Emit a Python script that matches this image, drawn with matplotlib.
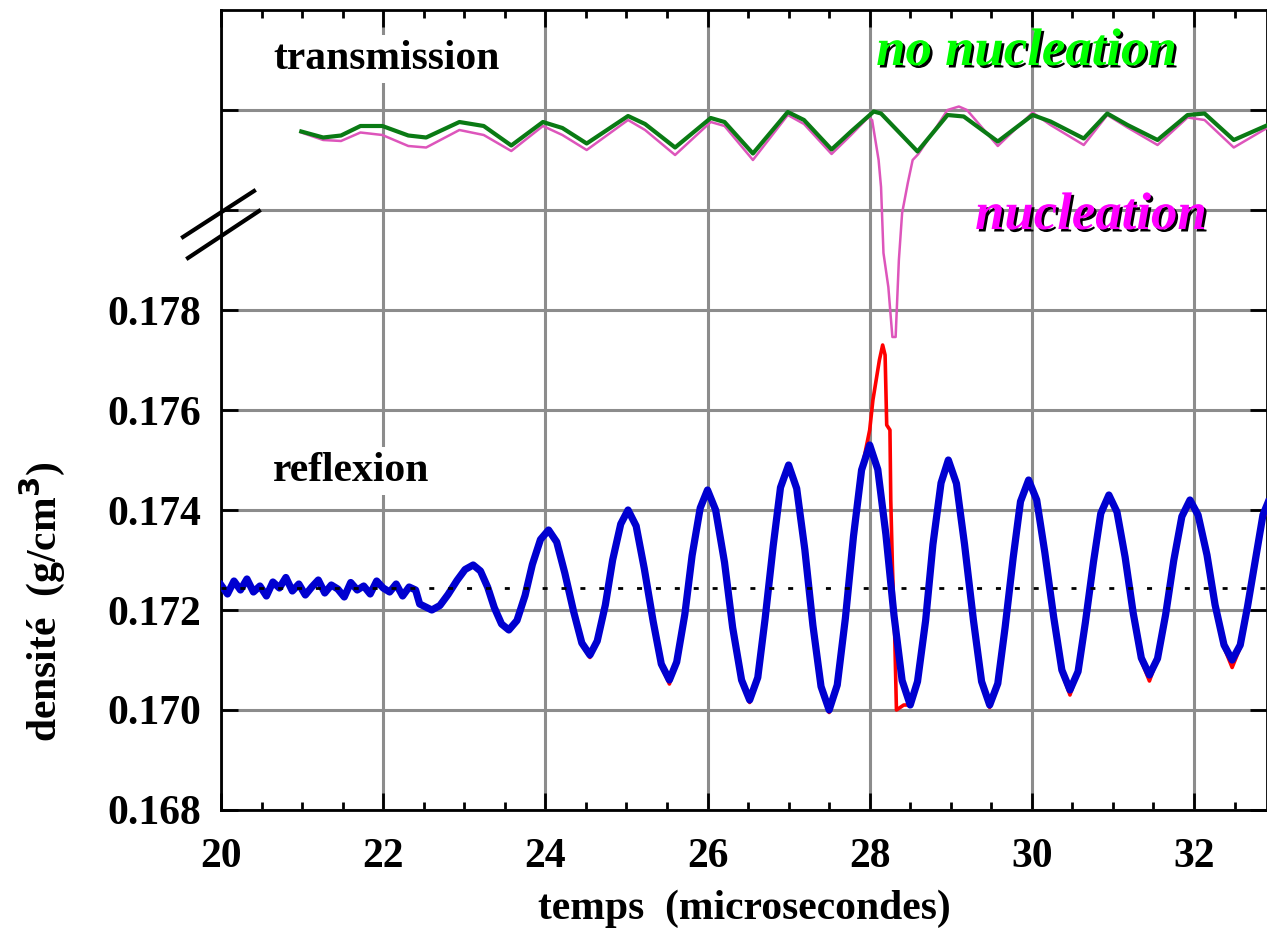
import matplotlib
matplotlib.use("Agg")
import matplotlib.pyplot as plt
import matplotlib.patheffects as pe
from matplotlib.lines import Line2D
from matplotlib.ticker import MultipleLocator

# reflexion, no nucleation (blue)
blue_t = [20.00, 20.08, 20.16, 20.24, 20.32, 20.40, 20.48, 20.56, 20.64, 20.72,
          20.80, 20.88, 20.96, 21.04, 21.12, 21.20, 21.28, 21.36, 21.44, 21.52,
          21.60, 21.68, 21.76, 21.84, 21.92, 22.00, 22.08, 22.16, 22.24, 22.32,
          22.40,
          22.45, 22.60, 22.70, 22.80, 22.91, 23.01, 23.11, 23.20, 23.29, 23.37,
          23.46, 23.55, 23.65, 23.75, 23.84, 23.94, 24.04, 24.14, 24.24, 24.35,
          24.45, 24.55, 24.64, 24.74, 24.83, 24.93, 25.02, 25.12, 25.22, 25.33,
          25.43, 25.53, 25.62, 25.72, 25.81, 25.91, 26.00, 26.10, 26.21, 26.31,
          26.42, 26.52, 26.62, 26.71, 26.81, 26.90, 27.00, 27.10, 27.20, 27.30,
          27.40, 27.50, 27.60, 27.70, 27.80, 27.90, 28.00, 28.10, 28.20, 28.30,
          28.40, 28.50, 28.59, 28.69, 28.78, 28.88, 28.97, 29.07, 29.17, 29.28,
          29.38, 29.48, 29.58, 29.67, 29.77, 29.86, 29.96, 30.06, 30.16, 30.27,
          30.37, 30.47, 30.57, 30.66, 30.76, 30.85, 30.95, 31.05, 31.15, 31.25,
          31.35, 31.45, 31.55, 31.65, 31.75, 31.85, 31.95, 32.05, 32.16, 32.26,
          32.37, 32.47, 32.57, 32.66, 32.76, 32.85, 32.95]
blue_v = [0.17250, 0.17232, 0.17258, 0.17240, 0.17262, 0.17236, 0.17248, 0.17228, 0.17256, 0.17244,
          0.17265, 0.17238, 0.17252, 0.17230, 0.17246, 0.17260, 0.17234, 0.17250, 0.17242, 0.17226,
          0.17255, 0.17240, 0.17248, 0.17232, 0.17258, 0.17244, 0.17236, 0.17252, 0.17228, 0.17246,
          0.17240,
          0.17212, 0.17200, 0.17209, 0.17231, 0.17259, 0.17281, 0.17290, 0.17278, 0.17245, 0.17205,
          0.17172, 0.17160, 0.17179, 0.17229, 0.17291, 0.17341, 0.17360, 0.17336, 0.17274, 0.17196,
          0.17134, 0.17110, 0.17138, 0.17210, 0.17300, 0.17372, 0.17400, 0.17368, 0.17283, 0.17177,
          0.17092, 0.17060, 0.17096, 0.17191, 0.17309, 0.17404, 0.17440, 0.17400, 0.17295, 0.17165,
          0.17060, 0.17020, 0.17065, 0.17182, 0.17328, 0.17445, 0.17490, 0.17443, 0.17321, 0.17169,
          0.17047, 0.17000, 0.17050, 0.17183, 0.17347, 0.17480, 0.17530, 0.17481, 0.17351, 0.17189,
          0.17059, 0.17010, 0.17057, 0.17179, 0.17331, 0.17454, 0.17500, 0.17453, 0.17331, 0.17179,
          0.17057, 0.17010, 0.17053, 0.17165, 0.17305, 0.17417, 0.17460, 0.17420, 0.17315, 0.17185,
          0.17080, 0.17040, 0.17077, 0.17175, 0.17296, 0.17393, 0.17430, 0.17396, 0.17306, 0.17194,
          0.17104, 0.17070, 0.17103, 0.17191, 0.17299, 0.17387, 0.17420, 0.17390, 0.17310, 0.17210,
          0.17130, 0.17100, 0.17130, 0.17207, 0.17303, 0.17390, 0.17430]

# reflexion, nucleation (red)
red_t = [22.45, 22.60, 22.70, 22.80, 22.91, 23.01, 23.11, 23.20, 23.29, 23.37,
         23.46, 23.55, 23.65, 23.75, 23.84, 23.94, 24.04, 24.14, 24.24, 24.35,
         24.45, 24.55, 24.64, 24.74, 24.83, 24.93, 25.02, 25.12, 25.22, 25.33,
         25.43, 25.53, 25.62, 25.72, 25.81, 25.91, 26.00, 26.10, 26.21, 26.31,
         26.42, 26.52, 26.62, 26.71, 26.81, 26.90, 27.00, 27.10, 27.20, 27.30,
         27.40, 27.50, 27.60, 27.70, 27.80, 27.90, 28.00, 28.04, 28.08, 28.12,
         28.16, 28.19, 28.21, 28.25, 28.26, 28.28, 28.31, 28.33, 28.42, 28.50,
         28.59, 28.69, 28.78, 28.88, 28.97, 29.07, 29.17, 29.28, 29.38, 29.48,
         29.58, 29.67, 29.77, 29.86, 29.96, 30.06, 30.16, 30.27, 30.37, 30.47,
         30.57, 30.66, 30.76, 30.85, 30.95, 31.05, 31.15, 31.25, 31.35, 31.45,
         31.55, 31.65, 31.75, 31.85, 31.95, 32.05, 32.16, 32.26, 32.37, 32.47,
         32.57, 32.66, 32.76, 32.85, 32.95]
red_v = [0.17212, 0.17200, 0.17209, 0.17231, 0.17259, 0.17281, 0.17290, 0.17278, 0.17245, 0.17205,
         0.17172, 0.17158, 0.17179, 0.17229, 0.17291, 0.17341, 0.17355, 0.17336, 0.17274, 0.17196,
         0.17130, 0.17105, 0.17138, 0.17210, 0.17300, 0.17372, 0.17395, 0.17368, 0.17283, 0.17177,
         0.17088, 0.17052, 0.17096, 0.17191, 0.17309, 0.17404, 0.17435, 0.17400, 0.17295, 0.17165,
         0.17055, 0.17015, 0.17065, 0.17182, 0.17328, 0.17445, 0.17480, 0.17443, 0.17321, 0.17169,
         0.17042, 0.16995, 0.17050, 0.17183, 0.17347, 0.17480, 0.17560, 0.17620, 0.17660, 0.17700,
         0.17730, 0.17710, 0.17570, 0.17560, 0.17420, 0.17290, 0.17140, 0.17000, 0.17010, 0.17010,
         0.17057, 0.17179, 0.17331, 0.17454, 0.17490, 0.17453, 0.17331, 0.17179, 0.17052, 0.17005,
         0.17053, 0.17165, 0.17305, 0.17417, 0.17450, 0.17420, 0.17315, 0.17185, 0.17075, 0.17030,
         0.17077, 0.17175, 0.17296, 0.17393, 0.17420, 0.17396, 0.17306, 0.17194, 0.17098, 0.17058,
         0.17103, 0.17191, 0.17299, 0.17387, 0.17410, 0.17390, 0.17310, 0.17210, 0.17125, 0.17085,
         0.17125, 0.17200, 0.17295, 0.17380, 0.17420]

# transmission, no nucleation (green) - plotted above the axis break
green_t = [20.99, 21.26, 21.48, 21.72, 21.99, 22.31, 22.53, 22.94, 23.24, 23.58,
           23.97, 24.21, 24.51, 25.02, 25.23, 25.60, 26.04, 26.21, 26.56, 26.99,
           27.19, 27.53, 27.77, 28.05, 28.14, 28.59, 28.96, 29.16, 29.58, 30.01,
           30.23, 30.64, 30.93, 31.18, 31.55, 31.92, 32.13, 32.49, 32.91]
green_v = [0.18157, 0.18145, 0.18149, 0.18168, 0.18168, 0.18149, 0.18145, 0.18176, 0.18168, 0.18129,
           0.18176, 0.18164, 0.18133, 0.18188, 0.18172, 0.18125, 0.18184, 0.18176, 0.18113, 0.18196,
           0.18180, 0.18121, 0.18157, 0.18197, 0.18193, 0.18117, 0.18190, 0.18187, 0.18137, 0.18190,
           0.18177, 0.18143, 0.18193, 0.18170, 0.18140, 0.18190, 0.18193, 0.18140, 0.18170]

# transmission, nucleation (magenta)
mag_t = [20.99, 21.26, 21.48, 21.72, 21.99, 22.31, 22.53, 22.94, 23.24, 23.58,
         23.97, 24.21, 24.51, 25.02, 25.23, 25.60, 26.04, 26.21, 26.56, 26.99,
         27.19, 27.53, 27.77, 27.98, 28.03, 28.11, 28.14, 28.17, 28.23, 28.28,
         28.32, 28.36, 28.40, 28.47, 28.53, 28.60, 28.80, 28.96, 29.10, 29.20,
         29.58, 30.01, 30.23, 30.64, 30.93, 31.18, 31.55, 31.92, 32.13, 32.49,
         32.91]
mag_v = [0.18155, 0.18140, 0.18138, 0.18155, 0.18150, 0.18128, 0.18125, 0.18160, 0.18150, 0.18118,
         0.18168, 0.18150, 0.18120, 0.18180, 0.18160, 0.18110, 0.18176, 0.18168, 0.18100, 0.18190,
         0.18172, 0.18112, 0.18150, 0.18185, 0.18180, 0.18100, 0.18046, 0.17914, 0.17846, 0.17746,
         0.17746, 0.17900, 0.17994, 0.18054, 0.18100, 0.18112, 0.18160, 0.18200, 0.18207, 0.18200,
         0.18128, 0.18195, 0.18170, 0.18130, 0.18190, 0.18165, 0.18130, 0.18185, 0.18180, 0.18125,
         0.18165]

rest_density = 0.17244
y_ticks = [0.168, 0.170, 0.172, 0.174, 0.176, 0.178, 0.180, 0.182]
y_labels = ["0.168", "0.170", "0.172", "0.174", "0.176", "0.178", "", ""]
x_ticks = [20, 22, 24, 26, 28, 30, 32]

serif = ["Liberation Serif", "DejaVu Serif"]
plt.rcParams["font.family"] = serif
plt.rcParams["font.weight"] = "bold"

W, H = 1267, 932
fig = plt.figure(figsize=(W / 100, H / 100), dpi=100)
ax = fig.add_axes([221 / W, 1 - 810 / H, 1 - 221 / W, 800 / H])

ax.set_xlim(20, 32.9)
ax.set_ylim(0.168, 0.184)

ax.grid(True, color="#8c8c8c", linewidth=2.2, zorder=0)
ax.set_axisbelow(True)

ax.plot(red_t, red_v, color="#ff0000", lw=2.6, zorder=3)
ax.plot(blue_t, blue_v, color="#0000d0", lw=5.2, zorder=4)
ax.plot(mag_t, mag_v, color="#dd55bb", lw=1.8, zorder=3)
ax.plot(green_t, green_v, color="#0a7a14", lw=3.0, zorder=4)
ax.axhline(rest_density, color="black", lw=2, linestyle=(0, (1.8, 5)), zorder=5)

ax.set_xticks(x_ticks)
ax.xaxis.set_minor_locator(MultipleLocator(0.5))
ax.set_yticks(y_ticks)
ax.set_yticklabels(y_labels)
ax.tick_params(which="both", direction="in", top=True, right=True, width=2)
ax.tick_params(which="major", length=12, labelsize=30, pad=14)
ax.tick_params(which="minor", length=6)
ax.tick_params(axis="x", which="major", pad=20)
for spine in ax.spines.values():
    spine.set_linewidth(2)

ax.set_xlabel("temps  (microsecondes)", fontsize=30, fontweight="bold", labelpad=10)
ax.set_ylabel("densité  (g/cm$^\\mathbf{3}$)", fontsize=30, fontweight="bold")
ax.yaxis.set_label_coords(-0.147, 0.26)

box = dict(facecolor="white", edgecolor="none", pad=4)
ax.text(20.64, 0.18302, "transmission", fontsize=30, fontweight="bold",
        va="center", ha="left", bbox=box, zorder=6)
ax.text(20.64, 0.17478, "reflexion", fontsize=30, fontweight="bold",
        va="center", ha="left", bbox=box, zorder=6)

shadow = [pe.withSimplePatchShadow(offset=(1.8, -1.8), shadow_rgbFace="black", alpha=1.0)]
ax.text(28.08, 0.18316, "no nucleation", fontsize=38, fontweight="bold", style="italic",
        color="#00ff00", va="center", ha="left", path_effects=shadow, zorder=6)
ax.text(29.30, 0.17988, "nucleation", fontsize=38, fontweight="bold", style="italic",
        color="#ff00ff", va="center", ha="left", path_effects=shadow, zorder=6)

# axis break marks on the left spine
for (x0, y0), (x1, y1) in [((183, 237), (254, 191)), ((188, 258), (259, 211))]:
    fig.add_artist(Line2D([x0 / W, x1 / W], [1 - y0 / H, 1 - y1 / H],
                          transform=fig.transFigure, color="black", lw=3))

fig.savefig("out.png", dpi=100)
